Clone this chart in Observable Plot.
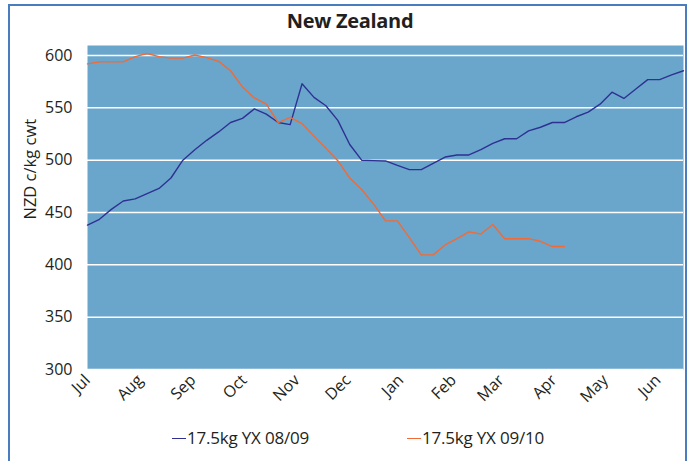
<!DOCTYPE html>
<html>
<head>
<meta charset="utf-8">
<script src="https://cdn.jsdelivr.net/npm/d3@7"></script>
<script src="https://cdn.jsdelivr.net/npm/@observablehq/plot@0.6"></script>
<style>
  body { margin: 0; background: #fff; font-family: "Open Sans", sans-serif; color: #231f20; }
  #wrap { position: relative; width: 694px; height: 461px; overflow: hidden; background: #fff; }
  #border { position: absolute; left: 8px; top: 4px; width: 679px; height: 480px; border: 2px solid #4a7cc0; box-sizing: border-box; pointer-events: none; }
  #title { position: absolute; top: 7px; left: 3px; width: 694px; text-align: center; font-weight: 700; font-size: 20px; letter-spacing: -0.3px; }
  #chart { position: absolute; left: 0; top: 0; }
  .leg { position: absolute; top: 426px; font-size: 17px; letter-spacing: -0.2px; display: flex; align-items: center; white-space: nowrap; }
  .leg .sw { display: inline-block; width: 14px; height: 0; border-top: 1.6px solid; margin-right: 1px; margin-top: 2px; }
</style>
</head>
<body>
<div id="wrap">
  <div id="chart"></div>
  <div id="title">New Zealand</div>
  <div id="border"></div>
</div>
<script>
// Series (weekly, July to June), NZD c/kg cwt
const series0809 = [438, 443.5, 453, 461, 463, 468, 473, 483, 500, 510, 519, 527, 536, 540, 549, 544, 536, 534, 573, 560, 552, 538, 515, 500, 499.6, 499.3, 495, 491, 491, 497, 503, 505, 505, 510, 516, 520.5, 520.5, 528, 531.5, 536, 536, 541.5, 546, 553.5, 565, 559, 568, 577, 577, 581.5, 585.5];
const series0910 = [592, 594, 594, 594, 599, 602, 599, 597.5, 597.5, 600.5, 598, 594.5, 585.5, 570, 559.5, 553.5, 536, 541, 535, 523, 511.5, 499.5, 483, 472, 458, 442, 442, 426, 409.5, 409.5, 419, 425, 431.5, 429.5, 438.5, 425, 425, 425, 422.5, 417.5, 417.5];
const seriesNames = ["17.5kg YX 08/09", "17.5kg YX 09/10"];
const seriesColors = ["#2e3192", "#f26a35"];
const months = ["Jul", "Aug", "Sep", "Oct", "Nov", "Dec", "Jan", "Feb", "Mar", "Apr", "May", "Jun"];
const monthTicks = [0, 4.43, 8.86, 13.14, 17.57, 21.86, 26.29, 30.71, 34.71, 39.14, 43.43, 47.86]; // week offsets of month starts
const yTicks = [300, 350, 400, 450, 500, 550, 600];

const rows = [];
series0809.forEach((v, i) => rows.push({week: i, value: v, series: seriesNames[0]}));
series0910.forEach((v, i) => rows.push({week: i, value: v, series: seriesNames[1]}));

const chart = Plot.plot({
  width: 694,
  height: 461,
  marginLeft: 87,
  marginRight: 11,
  marginTop: 45,
  marginBottom: 92,
  style: { fontFamily: "Open Sans, sans-serif", fontSize: "15px", color: "#231f20", background: "transparent" },
  x: { domain: [0, 50] },
  y: { domain: [300, 609.6] },
  color: { domain: seriesNames, range: seriesColors },
  marks: [
    Plot.frame({ fill: "#6aa6cc", stroke: null }),
    Plot.ruleY(yTicks, { stroke: "#ffffff", strokeWidth: 1.5 }),
    Plot.line(rows, { x: "week", y: "value", z: "series", stroke: "series", strokeWidth: 1.4 }),
    Plot.axisY({ ticks: yTicks, tickSize: 0, tickPadding: 15, fontSize: 16, label: null }),
    Plot.axisX({ ticks: monthTicks, tickFormat: d => months[monthTicks.indexOf(d)], tickRotate: -45, tickSize: 0, tickPadding: 8, fontSize: 16, label: null }),
    Plot.text(["NZD c/kg cwt"], { frameAnchor: "left", rotate: -90, dx: -57, dy: 12, fontSize: 16.5, fill: "#231f20" })
  ]
});
document.getElementById("chart").appendChild(chart);

// legend
const legX = [172, 407];
const wrap = document.getElementById("wrap");
seriesNames.forEach((name, i) => {
  const d = document.createElement("div");
  d.className = "leg";
  d.style.left = legX[i] + "px";
  d.innerHTML = `<span class="sw" style="border-color:${seriesColors[i]}"></span><span>${name}</span>`;
  wrap.appendChild(d);
});
</script>
</body>
</html>
